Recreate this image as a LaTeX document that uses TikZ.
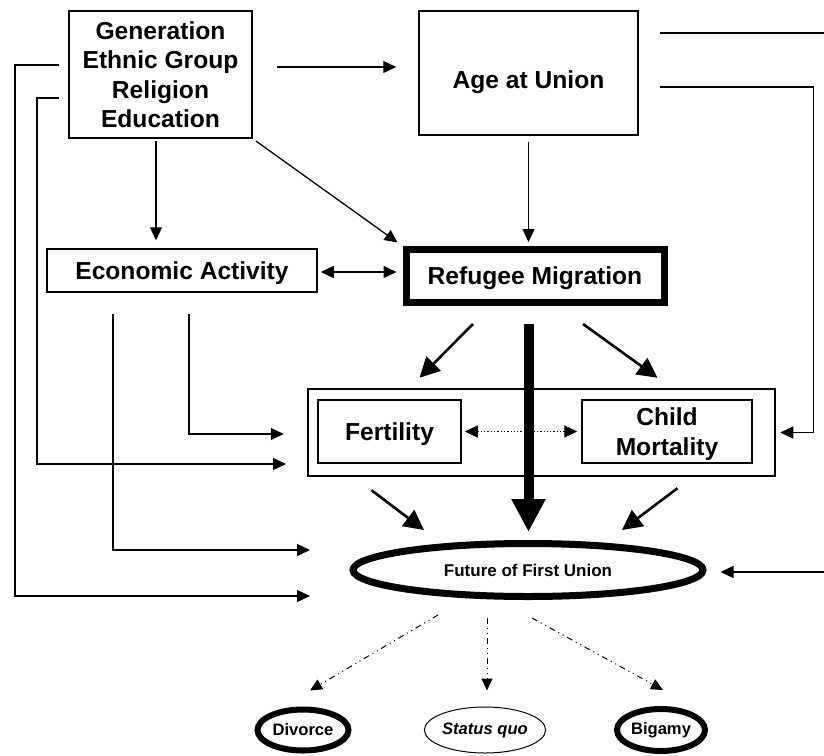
\documentclass[tikz,border=0pt]{standalone}
\usepackage{fontspec}
\setmainfont{Liberation Sans}
\usetikzlibrary{arrows.meta,shapes.geometric,positioning}

\tikzset{
  box/.style={draw, line width=0.75pt, align=center, inner sep=0pt, text depth=0pt,
    font=\bfseries\fontsize{12.3}{14.8}\selectfont},
  oval/.style={draw, ellipse, inner sep=0pt, font=\bfseries\fontsize{8.3}{9}\selectfont},
  arr/.style={line width=0.65pt, -{Triangle[length=6.5pt,width=6pt]}},
  twoarr/.style={line width=0.65pt, {Triangle[length=6.5pt,width=6pt]}-{Triangle[length=6.5pt,width=6pt]}},
  midarr/.style={line width=1.3pt, -{Triangle[length=10pt,width=10pt]}},
  bigarr/.style={line width=5pt, -{Triangle[length=16.5pt,width=16pt]}},
  outarr/.style={line width=0.5pt, dash dot dot, -{Triangle[length=6pt,width=5.5pt]}},
}

\begin{document}
\begin{tikzpicture}[x=0.5pt, y=-0.5pt]
	\useasboundingbox (0,0) rectangle (824,755);
	
	% boxes
	\node[box, minimum width=91.5pt, minimum height=63.5pt] (gen) at (160.5,74.5)
		{Generation\\Ethnic Group\\Religion\\Education};
	\node[box, text height=15pt, minimum width=109.5pt, minimum height=62pt] (age) at (528.5,73) {Age at Union};
	\node[box, minimum width=135pt, minimum height=21.5pt] (econ) at (182,270.5) {Economic Activity};
	\node[box, line width=3.5pt, minimum width=129pt, minimum height=26.5pt] (refugee) at (535,276)
		{Refugee Migration};
	\node[box, line width=1.25pt, minimum width=233.5pt, minimum height=43.5pt] (cluster) at (541.5,432.5) {};
	\node[box, minimum width=71.5pt, minimum height=31.5pt] (fert) at (389.5,431.5) {Fertility};
	\node[box, minimum width=85pt, minimum height=31.5pt] (child) at (667,431.5) {Child\\Mortality};
	
	% ovals
	\node[oval, line width=3.5pt, minimum width=175pt, minimum height=26.5pt,
		font=\bfseries\fontsize{8.5}{10}\selectfont] (future) at (528,570) {Future of First Union};
	\node[oval, line width=3pt, minimum width=45.5pt, minimum height=20.5pt] (divorce) at (303,730) {Divorce};
	\node[oval, line width=0.5pt, minimum width=48pt, minimum height=23pt,
		font=\bfseries\itshape\fontsize{8.3}{9}\selectfont] (quo) at (485,730) {Status quo};
	\node[oval, line width=3pt, minimum width=44pt, minimum height=21pt] (bigamy) at (661,730) {Bigamy};
	
	% free ends
	\coordinate (topR) at (824,33);
	\coordinate (inC) at (286,464);
	\coordinate (inF) at (310,550);
	\coordinate (inG) at (310,596);
	\coordinate (inR) at (824,572);
	
	% top row
	\draw[arr, shorten <=12pt, shorten >=11pt] ([shift={(0,-7.5)}]gen.east) -- ([shift={(0,-7.5)}]gen.east -| age.west);
	\draw[line width=0.65pt] ([shift={(21,-40)}]age.east) -- (topR);
	\draw[arr] ([shift={(21,14)}]age.east) -| ([shift={(37,0)}]cluster.east) -- ([shift={(4,0)}]cluster.east);
	
	% left lines
	\draw[arr] ([shift={(-9,-9.5)}]gen.west) -| (inG -| 15,0) -- (inG);
	\draw[arr] ([shift={(-9,23.5)}]gen.west) -| (inC -| 37,0) -- (inC);
	
	% into refugee migration
	\draw[arr, shorten <=1pt, shorten >=4pt] ([shift={(-4.5,0)}]gen.south) -- ([shift={(-4.5,0)}]gen.south |- econ.north);
	\draw[arr, shorten <=2pt, shorten >=3pt] (gen.south east) -- (refugee.north west);
	\draw[arr, shorten <=3pt, shorten >=2pt] (age.south) -- (age.south |- refugee.north);
	\draw[twoarr, shorten <=1.5pt, shorten >=3pt] ([shift={(0,1.5)}]econ.east) -- ([shift={(0,1.5)}]econ.east -| refugee.west);
	
	% economic activity lines
	\draw[arr] ([shift={(-69,21)}]econ.south) |- (inF);
	\draw[arr] ([shift={(7,21)}]econ.south) |- ([shift={(-23,1.5)}]cluster.west);
	
	% refugee migration out
	\draw[midarr] ([shift={(-62,18)}]refugee.south) -- ([shift={(-122,-10)}]cluster.north);
	\draw[midarr] ([shift={(48,18)}]refugee.south) -- ([shift={(116,-10)}]cluster.north);
	\draw[bigarr] ([shift={(0,18)}]refugee.south -| age.south) -- ([shift={(0,-8)}]future.north -| age.south);
	\draw[twoarr, densely dotted, line width=0.5pt, shorten <=1.5pt, shorten >=2pt] (fert.east) -- (child.west);
	
	% into future of first union
	\draw[midarr] ([shift={(-170,13)}]cluster.south) -- ([shift={(-104,-10)}]future.north);
	\draw[midarr] ([shift={(136,11)}]cluster.south) -- ([shift={(94,-10)}]future.north);
	\draw[arr, shorten >=7pt] (inR) -- (inR -| future.east);
	
	% outcomes
	\draw[outarr] ([shift={(-90,15)}]future.south) -- ([shift={(7,-16)}]divorce.north);
	\draw[outarr] ([shift={(-41,18)}]future.south) -- ([shift={(2,-16)}]quo.north);
	\draw[outarr] ([shift={(4,18)}]future.south) -- ([shift={(2,-16)}]bigamy.north);
	
\end{tikzpicture}
\end{document}
